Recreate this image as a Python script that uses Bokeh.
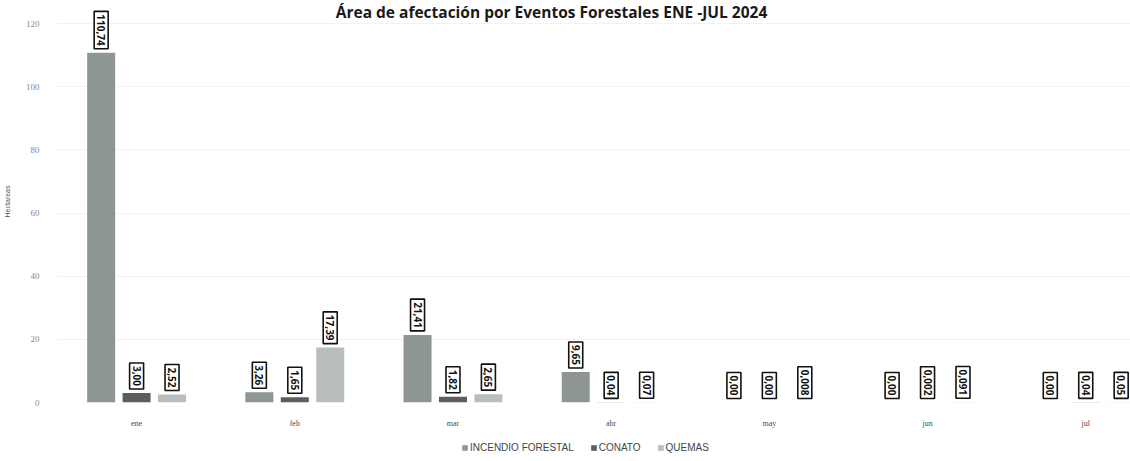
from math import pi
from bokeh.plotting import figure
from bokeh.layouts import column
from bokeh.models import Range1d, FixedTicker, Label, Legend, LegendItem
from bokeh.core.properties import value
from bokeh.embed import file_html
from bokeh.resources import INLINE

months = ["ene", "feb", "mar", "abr", "may", "jun", "jul"]
series = ["INCENDIO FORESTAL", "CONATO", "QUEMAS"]
incendio = [110.74, 3.26, 21.41, 9.65, 0.00, 0.00, 0.00]
conato = [3.00, 1.65, 1.82, 0.04, 0.00, 0.002, 0.04]
quemas = [2.52, 17.39, 2.65, 0.07, 0.008, 0.091, 0.05]
incendio_lbl = ["110,74", "3,26", "21,41", "9,65", "0,00", "0,00", "0,00"]
conato_lbl = ["3,00", "1,65", "1,82", "0,04", "0,00", "0,002", "0,04"]
quemas_lbl = ["2,52", "17,39", "2,65", "0,07", "0,008", "0,091", "0,05"]
y_ticks = [0, 20, 40, 60, 80, 100, 120]
title = "Área de afectación por Eventos Forestales ENE -JUL 2024"

colors = ["#8e9692", "#5c5d5d", "#b9bdbc"]
offsets = [-0.224, 0.0, 0.224]
bar_w = 0.177

p = figure(width=1130, height=430,
           x_range=Range1d(-0.5, 6.283), y_range=Range1d(0, 127.3),
           output_backend="svg", toolbar_location=None,
           min_border_left=57, min_border_right=0, min_border_top=0,
           min_border_bottom=28)
p.outline_line_color = None
p.background_fill_color = "white"

renderers = []
for vals, lbls, col, off in zip([incendio, conato, quemas],
                                [incendio_lbl, conato_lbl, quemas_lbl],
                                colors, offsets):
    xs = [i + off for i in range(len(months))]
    r = p.vbar(x=xs, top=vals, width=bar_w, fill_color=col, line_color=None)
    renderers.append(r)
    p.text(x=xs, y=vals, text=lbls, angle=-pi / 2,
           text_align="right", text_baseline="middle",
           text_font=value("Open Sans"), text_font_style="bold",
           text_font_size="10px", text_color="#111111",
           background_fill_color="white", border_line_color="#111111",
           border_line_width=1.6, padding=3, y_offset=-4)

# axes
p.xaxis.ticker = FixedTicker(ticks=list(range(len(months))))
p.xaxis.major_label_overrides = {i: m for i, m in enumerate(months)}
p.xaxis.axis_line_color = None
p.xaxis.major_tick_line_color = None
p.xaxis.minor_tick_line_color = None
p.xaxis.major_label_standoff = 10
p.xaxis.major_label_text_font_size = "8px"
p.xaxis.major_label_text_color = "#4a4a4a"
p.xaxis.major_label_text_font = "Liberation Serif"

p.yaxis.ticker = FixedTicker(ticks=y_ticks)
p.yaxis.axis_line_color = None
p.yaxis.major_tick_line_color = None
p.yaxis.minor_tick_line_color = None
p.yaxis.major_label_standoff = 12
p.yaxis.major_label_text_font_size = "9px"
p.yaxis.major_label_text_color = "#8a8a8a"
p.yaxis.major_label_text_font = "Liberation Serif"
p.yaxis.axis_label = "Hectareas"
p.yaxis.axis_label_text_font_size = "7px"
p.yaxis.axis_label_text_font_style = "normal"
p.yaxis.axis_label_text_color = "#555555"
p.yaxis.axis_label_standoff = 12

p.xgrid.grid_line_color = None
p.ygrid.ticker = FixedTicker(ticks=y_ticks)
p.ygrid.grid_line_color = "#f2f2f2"

p.add_layout(Label(x=2.623, y=127.3, text=title, text_align="center",
                   text_baseline="top", text_font="Open Sans",
                   text_font_style="bold", text_font_size="15.5px",
                   text_color="#1a1a1a"))

# legend strip below the chart (zero-size swatch renderers only feed the legend)
p2 = figure(width=1130, height=31, x_range=Range1d(0, 1), y_range=Range1d(0, 1),
            output_backend="svg", toolbar_location=None,
            x_axis_location=None, y_axis_location=None,
            min_border_left=0, min_border_right=0, min_border_top=0,
            min_border_bottom=0)
p2.outline_line_color = None
p2.xgrid.grid_line_color = None
p2.ygrid.grid_line_color = None
swatches = [p2.vbar(x=[0.5], top=[0], width=0, fill_color=c, line_color=None)
            for c in colors]
legend = Legend(items=[LegendItem(label=s, renderers=[r]) for s, r in zip(series, swatches)],
                location=(404, 8), orientation="horizontal",
                label_text_font_size="10px", label_text_color="#444444",
                label_text_font="Liberation Sans",
                glyph_width=7, glyph_height=7, label_standoff=2, spacing=16,
                padding=2, margin=0, border_line_color=None,
                background_fill_alpha=0, label_height=10)
p2.add_layout(legend)

open("out.html", "w").write(file_html(column(p, p2, spacing=0), INLINE))
